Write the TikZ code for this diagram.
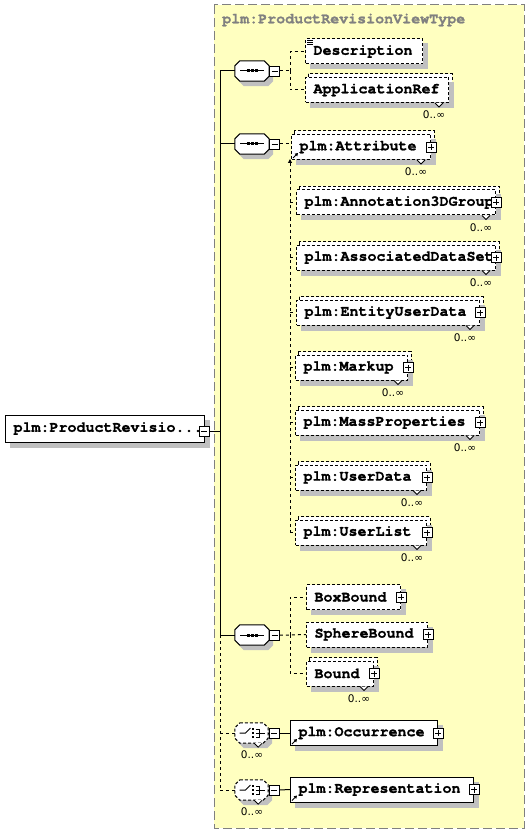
\documentclass[tikz,border=0pt]{standalone}
\usepackage{fontspec}
\newfontfamily\cursorfont{TeX Gyre Cursor}[BoldFeatures={FakeBold=1.2}]
\newfontfamily\dvsans{DejaVu Sans}
\usetikzlibrary{arrows.meta}
\pgfdeclarelayer{panel}\pgfdeclarelayer{shade}
\pgfsetlayers{panel,shade,main}
\definecolor{panelyellow}{RGB}{255,255,192}
\definecolor{shadowgray}{RGB}{192,192,192}
\definecolor{bordergray}{RGB}{128,128,128}
\tikzset{
  elfont/.style={font=\cursorfont\bfseries\fontsize{15}{15}\selectfont},
  elbox/.style={elfont, draw, fill=white, line width=1pt, minimum height=25pt,
    inner xsep=8pt, inner ysep=0pt, anchor=west, align=left},
  optdash/.style={dash pattern=on 3pt off 2pt},
  optbox/.style={elbox, optdash},
  conn/.style={line width=1pt},
  conndash/.style={conn, dash pattern=on 3pt off 3pt},
  mult/.style={font=\dvsans\fontsize{10.5}{10.5}\selectfont, inner sep=0pt},
  pmbox/.style={draw, fill=white, minimum size=10pt, inner sep=0pt, line width=.9pt},
  minusbox/.style={pmbox, path picture={
    \draw[line width=.9pt] ([xshift=2pt]path picture bounding box.west) -- ([xshift=-2pt]path picture bounding box.east);}},
  plusbox/.style={pmbox, path picture={
    \draw[line width=.9pt] ([xshift=2pt]path picture bounding box.west) -- ([xshift=-2pt]path picture bounding box.east);
    \draw[line width=.9pt] ([yshift=-2pt]path picture bounding box.north) -- ([yshift=2pt]path picture bounding box.south);}},
  comp/.style={minimum width=34pt, minimum height=20pt, inner sep=0pt},
}
\newcommand\octpath[1]{([xshift=5pt]#1.north west) -- ([xshift=-5pt]#1.north east) -- ([yshift=-5pt]#1.north east) -- ([yshift=5pt]#1.south east) -- ([xshift=-5pt]#1.south east) -- ([xshift=5pt]#1.south west) -- ([yshift=5pt]#1.south west) -- ([yshift=-5pt]#1.north west) -- cycle}
\newcommand\seqicon[1]{%
  \draw[line width=1pt] ([xshift=-12pt]#1.center) -- ([xshift=12pt]#1.center);
  \foreach \dx in {-4,0,4}{\fill ([xshift=\dx pt-1.5pt,yshift=-1.5pt]#1.center) rectangle ++(3,-3);}}
\newcommand\choiceicon[1]{%
  \draw[line width=1pt] ([xshift=-12pt]#1.center) -- ([xshift=-6pt]#1.center) -- ([xshift=-1pt,yshift=5pt]#1.center);
  \foreach \dy in {-4,0,4}{\fill ([xshift=0pt,yshift=\dy pt-1.2pt]#1.center) rectangle ++(2.5,-2.5);}
  \draw[line width=1pt] ([xshift=4pt,yshift=4pt]#1.center) -- ([xshift=8pt,yshift=4pt]#1.center) -- ([xshift=8pt,yshift=-4pt]#1.center) -- ([xshift=4pt,yshift=-4pt]#1.center);
  \draw[line width=1pt] ([xshift=4pt]#1.center) -- ([xshift=13pt]#1.center);}
\newcommand\notch[1]{\draw[fill=white, line width=.8pt] ([xshift=-14pt]#1.south east) -- ++(4,4) -- ++(4,-4);}
\newcommand\refarrow[1]{\draw[line width=.9pt, -{Triangle[length=3pt,width=3.5pt]}] ([xshift=2pt,yshift=2pt]#1.south west) -- ++(5,-5);}
\begin{document}
\begin{tikzpicture}[x=1pt, y=-1pt]
\useasboundingbox (0,0) rectangle (530,834);
\begin{pgfonlayer}{panel}
  \draw[bordergray, fill=panelyellow, dash pattern=on 9pt off 4pt, line width=1pt] (214,5) rectangle (524,828);
\end{pgfonlayer}
\node[elfont, text=bordergray, anchor=west, inner sep=0pt] (title) at (222,20) {plm:ProductRevisionViewType};

% root
\node[elbox, text width=183pt, minimum height=27pt] (root) at (5,428.5) {plm:ProductRevisio...};
\node[minusbox] (rootM) at (204,431) {};

% compositors
\node[comp] (seqA) at (252,71) {};
\node[comp] (seqB) at (252,144) {};
\node[comp] (seqC) at (252,635) {};
\node[comp, minimum width=33pt] (choiceA) at (251.5,733) {};
\node[comp, minimum width=33pt] (choiceB) at (251.5,790) {};
\draw[fill=white, line width=1pt] \octpath{seqA};
\draw[fill=white, line width=1pt] \octpath{seqB};
\draw[fill=white, line width=1pt] \octpath{seqC};
\draw[fill=white, line width=1pt, optdash] \octpath{choiceA};
\draw[fill=white, line width=1pt, optdash] \octpath{choiceB};
\seqicon{seqA}\seqicon{seqB}\seqicon{seqC}
\choiceicon{choiceA}\choiceicon{choiceB}
\notch{choiceA}\notch{choiceB}
\node[minusbox] (mA) at (274.5,71) {};
\node[minusbox] (mB) at (274.5,144) {};
\node[minusbox] (mC) at (274.5,635) {};
\node[minusbox] (mCA) at (274,733) {};
\node[minusbox] (mCB) at (274,790) {};
\node[mult] (choiceAM) at (252,755) {0..∞};
\node[mult] (choiceBM) at (252,812) {0..∞};

% first sequence
\node[optbox, text width=101pt] (desc) at (305,51.5) {Description};
\node[optbox, text width=127pt] (appref) at (305,90) {ApplicationRef};
% second sequence
\node[optbox, text width=123pt] (attr) at (291,147) {plm:Attribute};
\node[optbox, text width=183pt] (annot) at (296,202.5) {plm:Annotation3DGroup};
\node[optbox, text width=183pt] (assoc) at (296,257.5) {plm:AssociatedDataSet};
\node[optbox, text width=167pt] (entity) at (296,312.5) {plm:EntityUserData};
\node[optbox, text width=96pt] (markup) at (295,367.5) {plm:Markup};
\node[optbox, text width=168pt] (mass) at (295,422.5) {plm:MassProperties};
\node[optbox, text width=115pt] (udata) at (295,477.5) {plm:UserData};
\node[optbox, text width=115pt] (ulist) at (295,532.5) {plm:UserList};
% third sequence
\node[optbox, text width=78pt] (boxb) at (306,597) {BoxBound};
\node[optbox, text width=105pt] (sphere) at (306,634.5) {SphereBound};
\node[optbox, text width=51pt] (bound) at (306,673.5) {Bound};
% choices
\node[elbox, text width=131pt] (occ) at (290,733) {plm:Occurrence};
\node[elbox, text width=167pt] (repr) at (290,789.5) {plm:Representation};

% back boxes and shadows
\begin{pgfonlayer}{shade}
  \foreach \n in {appref,attr,annot,assoc,entity,markup,mass,udata,ulist,bound}{
    \draw[fill=white, line width=1pt, optdash, transform canvas={xshift=3pt,yshift=3pt}] (\n.north west) rectangle (\n.south east);
    \fill[shadowgray, transform canvas={xshift=5pt,yshift=-5pt}] (\n.north west) rectangle (\n.south east);
  }
  \foreach \n in {root,desc,boxb,sphere,occ,repr}{
    \fill[shadowgray, transform canvas={xshift=5pt,yshift=-5pt}] (\n.north west) rectangle (\n.south east);
  }
  \foreach \n in {seqA,seqB,seqC,choiceA,choiceB}{
    \fill[shadowgray, transform canvas={xshift=4pt,yshift=-5pt}] \octpath{\n};
  }
\end{pgfonlayer}

% icons on element boxes
\draw[line width=.8pt] ([xshift=2pt,yshift=-2pt]desc.north west) -- ++(6,0);
\draw[line width=.8pt] ([xshift=2pt,yshift=-4pt]desc.north west) -- ++(6,0);
\draw[line width=.8pt] ([xshift=2pt,yshift=-6pt]desc.north west) -- ++(6,0);
\refarrow{attr}\refarrow{occ}\refarrow{repr}
\foreach \n in {appref,attr,annot,assoc,entity,markup,mass,udata,ulist,bound}{
  \notch{\n}
  \node[mult] (\n M) at ([xshift=-15pt,yshift=-12pt]\n.south east) {0..∞};
}
\foreach \n in {attr,annot,assoc,entity,markup,mass,udata,ulist,boxb,sphere,bound,occ,repr}{
  \node[plusbox] (\n P) at (\n.east) {};
}

% spine
\coordinate (sp1) at (220,71);
\coordinate (sp3) at (220,635);
\coordinate (sp5) at (220,790);
\draw[conn] (rootM.east) -- (rootM.east -| sp1);
\draw[conn] (sp1) -- (sp3);
\draw[conndash] (sp3) -- (sp5);
\draw[conn] (sp1) -- (seqA.west);
\draw[conn] (seqB.west -| sp1) -- (seqB.west);
\draw[conn] (sp3) -- (seqC.west);
\draw[conndash] (choiceA.west -| sp1) -- (choiceA.west);
\draw[conndash] (sp5) -- (choiceB.west);
\draw[conn] (seqA.east) -- (mA.west);
\draw[conn] (seqB.east) -- (mB.west);
\draw[conn] (seqC.east) -- (mC.west);
\draw[conn] (choiceA.east) -- (mCA.west);
\draw[conn] (choiceB.east) -- (mCB.west);

% first sequence branches
\coordinate (jA) at (290,71);
\draw[conndash] (mA.east) -- (jA);
\draw[conndash] (jA) |- (desc.west);
\draw[conndash] (jA) |- (appref.west);

% second sequence branches
\coordinate (jBtop) at (290,159);
\coordinate (jBbot) at (290,532.5);
\draw[conndash] (mB.east) -- (mB.east -| attr.west);
\draw[conndash, -{Triangle[length=4pt,width=4pt]}] (jBbot) -- (jBtop);
\foreach \n in {annot,assoc,entity,markup,mass,udata,ulist}{
  \draw[conndash] (\n.west -| jBtop) -- (\n.west);
}

% third sequence branches
\coordinate (jC) at (290,635);
\draw[conndash] (mC.east) -- (jC) -- (sphere.west);
\draw[conndash] (jC) |- (boxb.west);
\draw[conndash] (jC) |- (bound.west);

% choices to elements
\draw[conn] (mCA.east) -- (occ.west);
\draw[conn] (mCB.east) -- (repr.west);
\end{tikzpicture}
\end{document}
